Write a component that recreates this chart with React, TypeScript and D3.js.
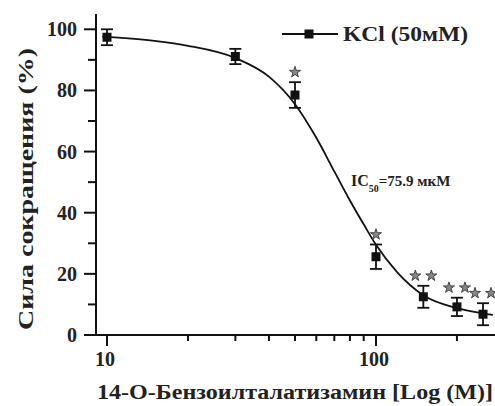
import React from "react";
import * as d3 from "d3";

// concentrations (мкМ) and contraction force (%)
const conc = [10, 30, 50, 100, 150, 200, 250];
const force = [97.4, 91.1, 78.5, 25.6, 12.5, 9.2, 6.8];
const sem = [2.6, 2.5, 4.2, 4.0, 3.6, 3.0, 3.6];
const stars = [0, 0, 1, 1, 2, 2, 2];

// fitted curve
const curveX = [9.6, 10, 15, 20, 30, 40, 50, 60, 70, 80, 90, 100, 120, 150, 200, 250, 272];
const curveY = [97.6, 97.5, 96.2, 94.6, 90.6, 84.5, 75.5, 64.5, 53.5, 44, 36.2, 29.5, 20.5, 13, 8.8, 7.1, 6.6];

const yTicks = [0, 20, 40, 60, 80, 100];
const yMinor = [10, 30, 50, 70, 90];
const xTicks = [10, 100];
const xMinor = [20, 30, 40, 50, 60, 70, 80, 90, 200];

const font = "Liberation Serif, Times New Roman, DejaVu Serif, serif";

function App() {
  const width = 495;
  const height = 406;
  const x = d3.scaleLog().domain([9.1, 277]).range([96, 495]);
  const y = d3.scaleLinear().domain([0, 105]).range([335, 14]);

  const line = d3.line<number>()
    .x((d, i) => x(curveX[i]))
    .y(d => y(d))
    .curve(d3.curveMonotoneX);

  const star = d3.symbol().type(d3.symbolStar).size(38)();

  return (
    <svg width={width} height={height} style={{ position: "absolute", left: 0, top: 0, background: "#fff", fontFamily: font, fontWeight: "bold" }}>
      {/* y axis */}
      <line x1={96} x2={96} y1={14} y2={336} stroke="#111" strokeWidth={2} />
      {yTicks.map(t => (
        <g key={t}>
          <line x1={84} x2={96} y1={y(t)} y2={y(t)} stroke="#111" strokeWidth={2} />
          <text x={77} y={y(t)} dy="0.35em" textAnchor="end" fontSize={20} fill="#222">{t}</text>
        </g>
      ))}
      {yMinor.map(t => (
        <line key={t} x1={88} x2={96} y1={y(t)} y2={y(t)} stroke="#111" strokeWidth={2} />
      ))}
      <text transform="translate(33,189) rotate(-90)" textAnchor="middle" fontSize={21} fill="#222"
        textLength={282} lengthAdjust="spacingAndGlyphs">
        Сила сокращения (%)
      </text>

      {/* x axis */}
      <line x1={95} x2={495} y1={335} y2={335} stroke="#111" strokeWidth={2} />
      {xTicks.map(t => (
        <g key={t}>
          <line x1={x(t)} x2={x(t)} y1={335} y2={346} stroke="#111" strokeWidth={2} />
          <text x={x(t) - 2} y={366} textAnchor="middle" fontSize={20} fill="#222">{t}</text>
        </g>
      ))}
      {xMinor.map(t => (
        <line key={t} x1={x(t)} x2={x(t)} y1={335} y2={341} stroke="#111" strokeWidth={2} />
      ))}
      <text x={97} y={399} fontSize={20} fill="#222" textLength={396} lengthAdjust="spacingAndGlyphs">
        14-О-Бензоилталатизамин [Log (M)]
      </text>

      {/* fitted curve */}
      <path d={line(curveY) || ""} fill="none" stroke="#111" strokeWidth={1.8} />

      {/* error bars and points */}
      {conc.map((c, i) => {
        const cx = x(c);
        const top = y(force[i] + sem[i]);
        const bot = y(force[i] - sem[i]);
        return (
          <g key={c} stroke="#111" strokeWidth={1.8}>
            <line x1={cx} x2={cx} y1={top} y2={bot} />
            <line x1={cx - 6} x2={cx + 6} y1={top} y2={top} />
            <line x1={cx - 6} x2={cx + 6} y1={bot} y2={bot} />
            <rect x={cx - 4.5} y={y(force[i]) - 4.5} width={9} height={9} fill="#111" stroke="none" />
          </g>
        );
      })}

      {/* significance stars */}
      {conc.map((c, i) => {
        const n = stars[i];
        if (!n) return null;
        const cy = y(force[i] + sem[i]) - 10;
        const offs = n === 1 ? [0] : [-8, 8];
        return offs.map((o, k) => (
          <path key={c + "-" + k} d={star || ""} transform={`translate(${x(c) + o},${cy})`}
            fill="#888" stroke="#444" strokeWidth={1} />
        ));
      })}

      {/* legend */}
      <line x1={282} x2={338} y1={34} y2={34} stroke="#111" strokeWidth={2} />
      <rect x={304.5} y={29.5} width={9} height={9} fill="#111" />
      <text x={343} y={34} dy="0.35em" fontSize={20} fill="#222" textLength={125} lengthAdjust="spacingAndGlyphs">KCl (50мМ)</text>

      {/* IC50 */}
      <text x={351} y={186} fontSize={16} fill="#222">
        IC<tspan fontSize={10} dy={6}>50</tspan><tspan dy={-6} fontSize={15}>=75.9 мкМ</tspan>
      </text>
    </svg>
  );
}

export default App;
